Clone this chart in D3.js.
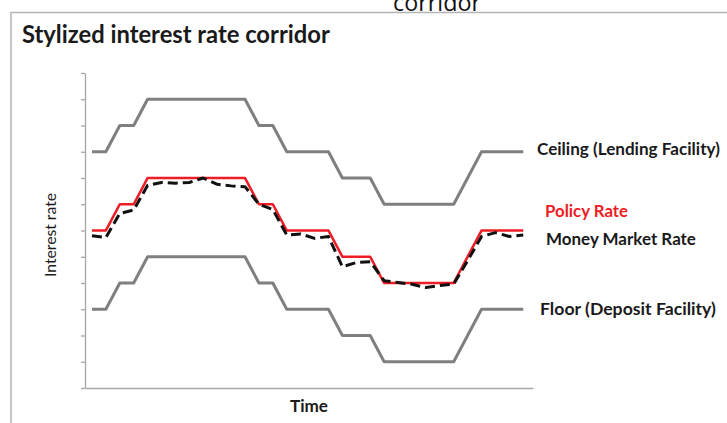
<!DOCTYPE html>
<html>
<head>
<meta charset="utf-8">
<script src="https://cdn.jsdelivr.net/npm/d3@7"></script>
<style>
  html, body { margin: 0; padding: 0; background: #fff; }
  svg { display: block; }
</style>
</head>
<body>
<svg id="chart" width="727" height="423"></svg>
<script>
// Time steps (stylized periods) and rate levels per step
const time = d3.range(0, 32);
const ceiling = [9,9,10,10,11,11,11,11,11,11,11,11,10,10,9,9,9,9,8,8,8,7,7,7,7,7,7,8,9,9,9,9];
const policy  = [6,6,7,7,8,8,8,8,8,8,8,8,7,7,6,6,6,6,5,5,5,4,4,4,4,4,4,5,6,6,6,6];
const floor   = [3,3,4,4,5,5,5,5,5,5,5,5,4,4,3,3,3,3,2,2,2,1,1,1,1,1,1,2,3,3,3,3];
const money   = [5.8,5.73,6.65,6.78,7.72,7.83,7.8,7.83,8.0,7.76,7.7,7.67,7.0,6.8,5.83,5.87,5.7,5.77,
                 4.62,4.78,4.81,4.09,4.02,3.95,3.83,3.9,3.96,4.85,5.77,5.92,5.77,5.83];
const yTicks  = d3.range(0, 13);

const seriesNames = {
  ceiling: "Ceiling (Lending Facility)",
  policy: "Policy Rate",
  money: "Money Market Rate",
  floor: "Floor (Deposit Facility)"
};

const svg = d3.select("#chart");
const font = "Lato, 'Open Sans', sans-serif";

const x = d3.scaleLinear().domain([-0.5, 31.7]).range([85, 533]);
const y = d3.scaleLinear().domain([0, 12]).range([388, 73]);

// Size a text so that it spans the given width
function fitWidth(sel, width) {
  const node = sel.node();
  const fs = +sel.attr("font-size");
  const len = node.getComputedTextLength();
  const size = fs * width / len;
  sel.attr("font-size", size);
  return size;
}

// Heading fragment above the frame
const head = svg.append("text")
  .attr("x", 437).attr("y", 11)
  .attr("text-anchor", "middle")
  .attr("font-family", "'Open Sans', sans-serif")
  .attr("font-size", 24)
  .attr("fill", "#111")
  .text("corridor");
fitWidth(head, 88);

// Panel frame (top and left edges)
svg.append("path")
  .attr("d", "M11,423 L11,12.5 L727,12.5")
  .attr("fill", "none")
  .attr("stroke", "#b4b4b4")
  .attr("stroke-width", 1.5);

// Panel title
const title = svg.append("text")
  .attr("x", 22)
  .attr("font-family", font)
  .attr("font-weight", "bold")
  .attr("font-size", 20)
  .attr("fill", "#1a1a1a")
  .text("Stylized interest rate corridor");
const tfs = fitWidth(title, 308);
title.attr("y", 34 + 0.36 * tfs);

// Axes
const yAxis = svg.append("g")
  .attr("transform", `translate(${x(-0.5)},0)`)
  .call(d3.axisLeft(y).tickValues(yTicks).tickSize(4).tickSizeOuter(0).tickFormat(""));
yAxis.selectAll("path, line").attr("stroke", "#a6a6a6").attr("stroke-width", 1.3);

const xAxis = svg.append("g")
  .attr("transform", `translate(0,${y(0)})`)
  .call(d3.axisBottom(x).tickValues([]).tickSizeOuter(0));
xAxis.selectAll("path").attr("stroke", "#a6a6a6").attr("stroke-width", 1.3);

// Axis titles
const yTitle = svg.append("text")
  .attr("text-anchor", "middle")
  .attr("font-family", font)
  .attr("font-size", 14)
  .attr("fill", "#1a1a1a")
  .text("Interest rate");
const yfs = fitWidth(yTitle, 84);
yTitle.attr("transform", `translate(${50 + 0.36 * yfs},235) rotate(-90)`);

const xTitle = svg.append("text")
  .attr("x", 309)
  .attr("text-anchor", "middle")
  .attr("font-family", font)
  .attr("font-weight", "bold")
  .attr("font-size", 16)
  .attr("fill", "#1a1a1a")
  .text("Time");
const xfs = fitWidth(xTitle, 38);
xTitle.attr("y", 406 + 0.36 * xfs);

// Lines
const line = d3.line().x((d, i) => x(time[i])).y(d => y(d));

const drawLine = (values, color, width, dash) => {
  svg.append("path")
    .datum(values)
    .attr("d", line)
    .attr("fill", "none")
    .attr("stroke", color)
    .attr("stroke-width", width)
    .attr("stroke-linejoin", "round")
    .attr("stroke-dasharray", dash || null);
};

drawLine(ceiling, "#7f7f7f", 3);
drawLine(floor, "#7f7f7f", 3);
drawLine(policy, "#ee1c25", 2.6);
drawLine(money, "#111111", 3, "10,5");

// Series labels at the right end of the lines (cy = label centre)
const last = arr => arr[arr.length - 1];
const labels = [
  { text: seriesNames.ceiling, x: 537, cy: y(last(ceiling)) - 3,  w: 183, color: "#1a1a1a" },
  { text: seriesNames.policy,  x: 545, cy: y(last(policy)) - 19.5, w: 83,  color: "#ee1c25" },
  { text: seriesNames.money,   x: 546, cy: y(last(money)) + 4,   w: 150, color: "#1a1a1a" },
  { text: seriesNames.floor,   x: 540, cy: y(last(floor)) - 0.5, w: 176, color: "#1a1a1a" }
];
labels.forEach(d => {
  const t = svg.append("text")
    .attr("class", "series")
    .attr("x", d.x)
    .attr("font-family", font)
    .attr("font-weight", "bold")
    .attr("font-size", 16)
    .attr("fill", d.color)
    .text(d.text);
  const fs = fitWidth(t, d.w);
  t.attr("y", d.cy + 0.36 * fs);
});
</script>
</body>
</html>
